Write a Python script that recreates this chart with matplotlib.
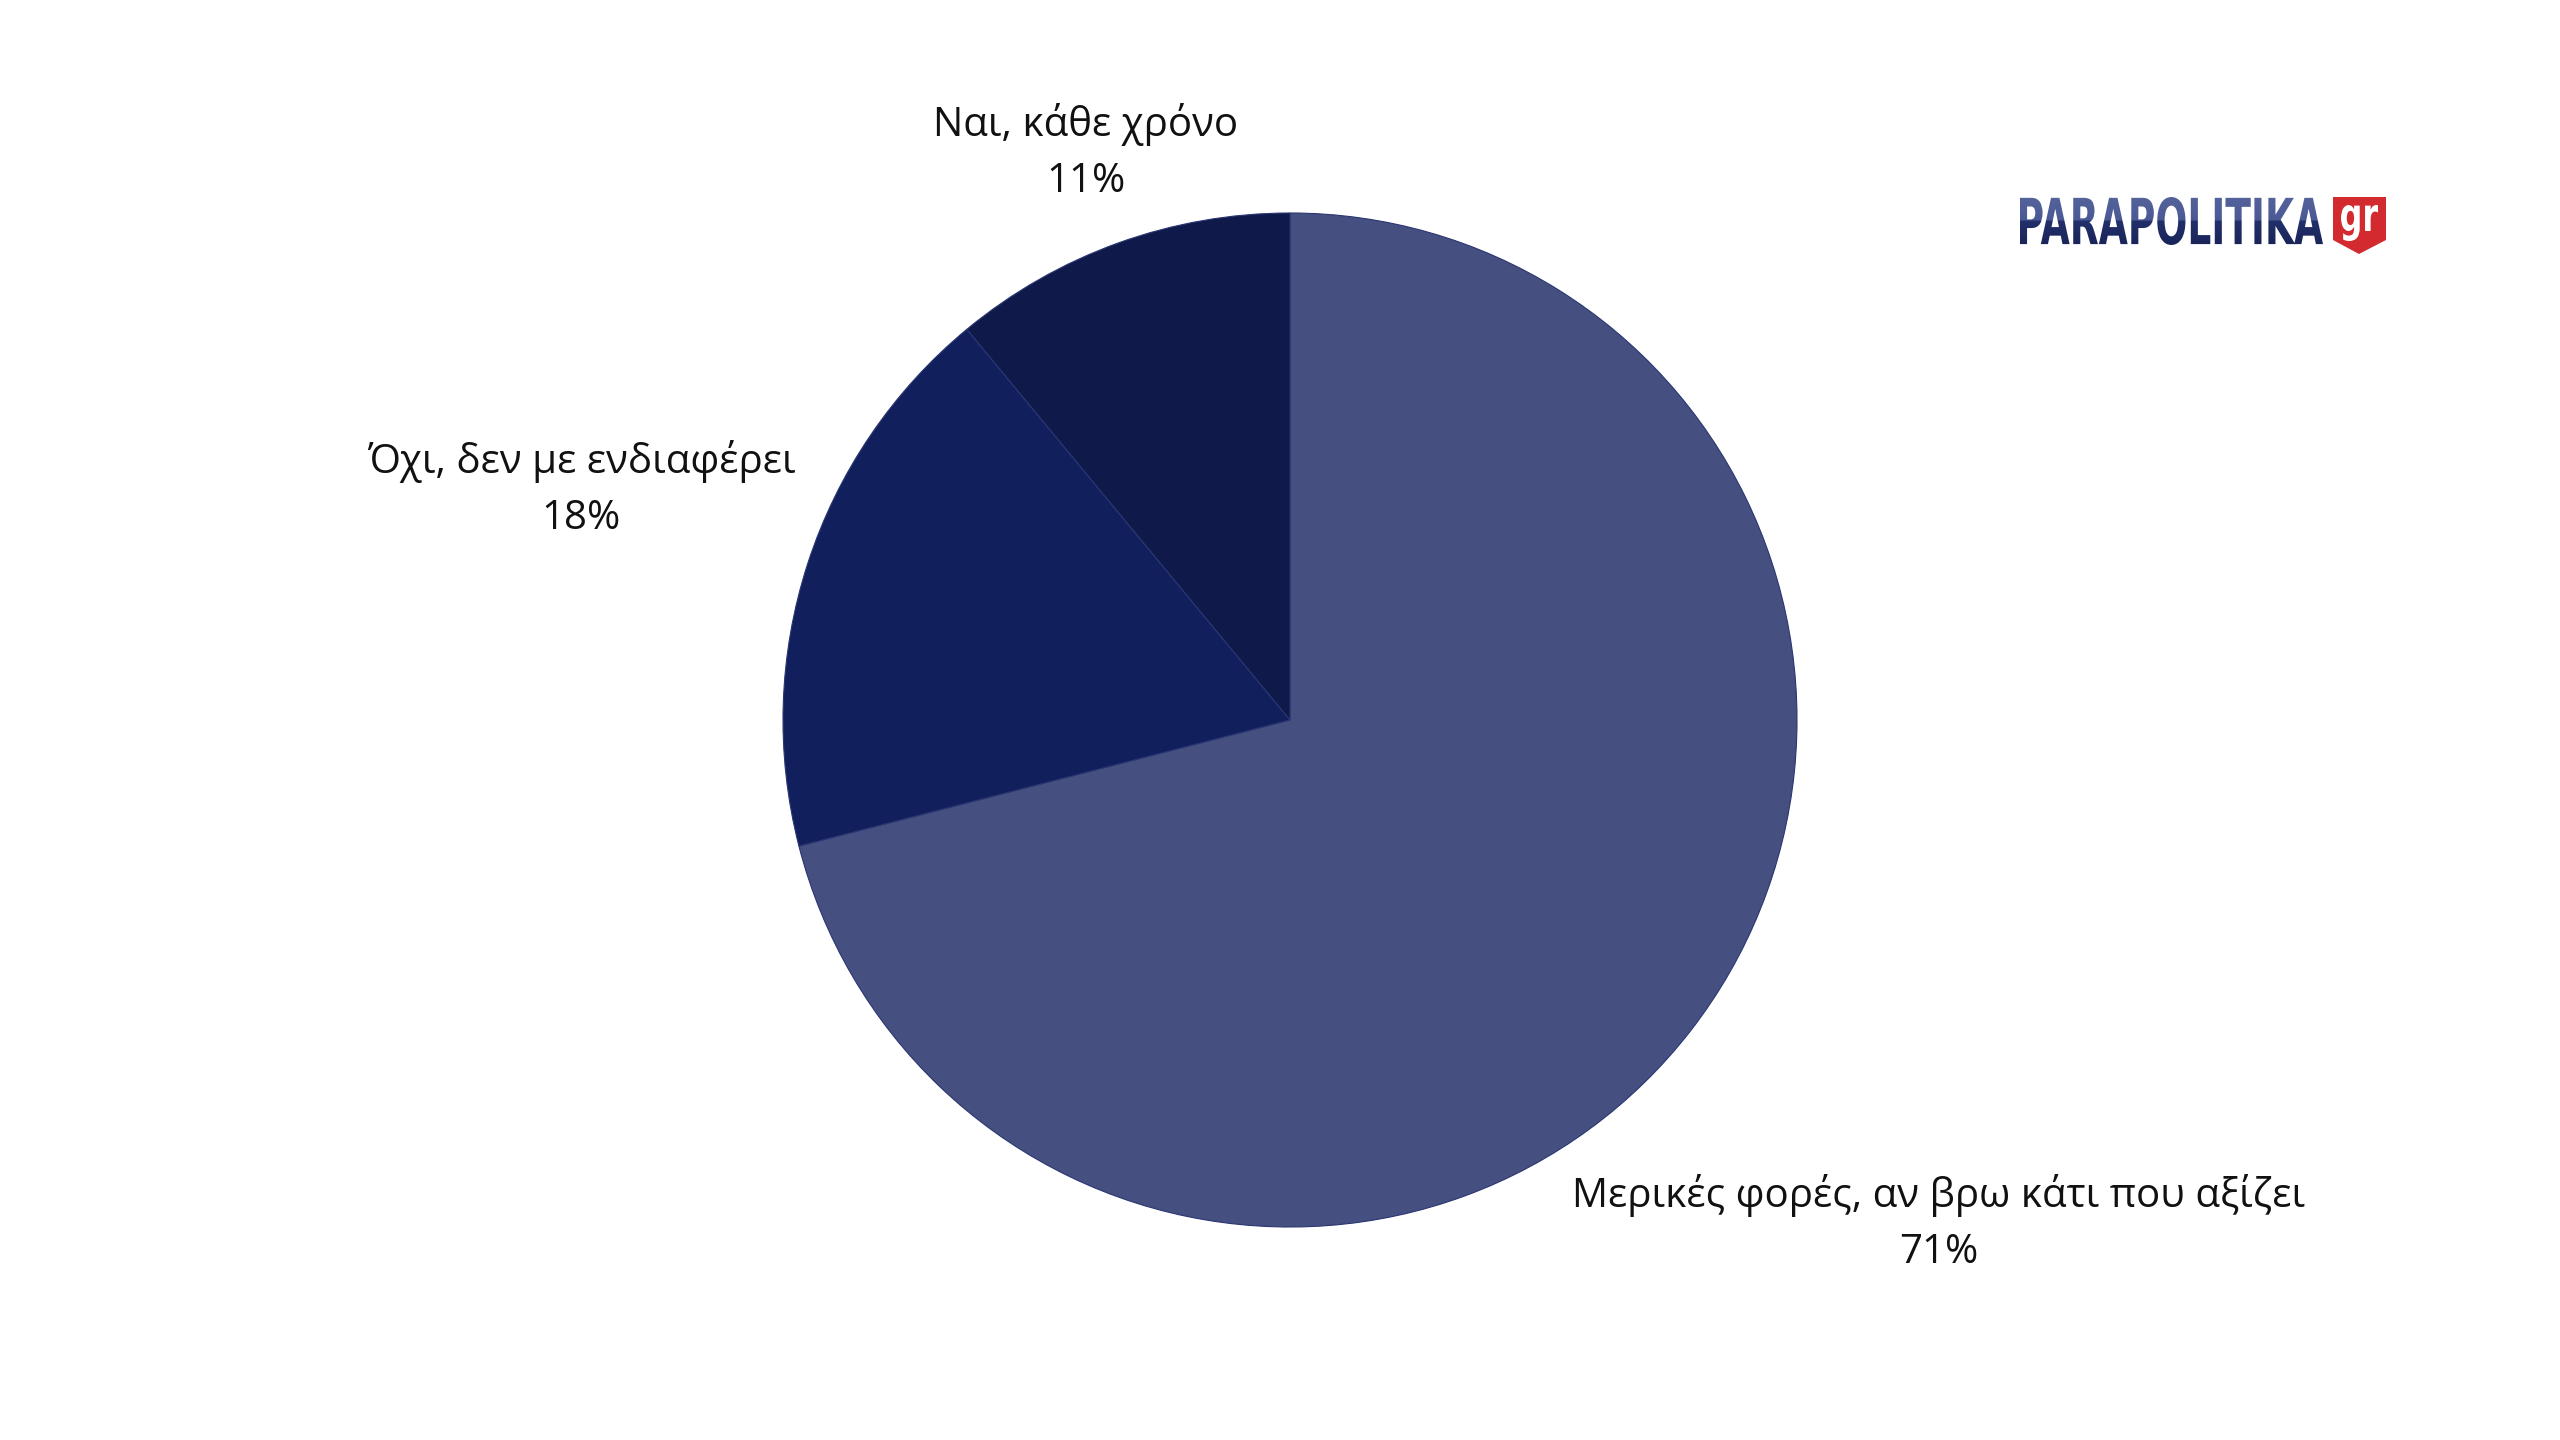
import numpy as np
import matplotlib
matplotlib.use("Agg")
import matplotlib.pyplot as plt
from matplotlib.textpath import TextPath
from matplotlib.patches import PathPatch, Polygon
from matplotlib.font_manager import FontProperties
from matplotlib.transforms import Affine2D

# data
labels = ["Μερικές φορές, αν βρω κάτι που αξίζει", "Όχι, δεν με ενδιαφέρει", "Ναι, κάθε χρόνο"]
values = [71, 18, 11]
colors = ["#454F80", "#111F5C", "#0F1A4B"]
label_dist = [1.62, 1.47, 1.19]   # radial distance of each label (in radii)

W, H = 2560, 1440
fig = plt.figure(figsize=(25.6, 14.4), dpi=100)
ax = fig.add_axes([0, 0, 1, 1])

cx, cy, r = 1290, H - 720, 507
wedges, _ = ax.pie(values, colors=colors, startangle=90, counterclock=False,
                   radius=r, center=(cx, cy), frame=True,
                   wedgeprops=dict(linewidth=0.8, edgecolor="#2a3672"))
ax.set_xlim(0, W)
ax.set_ylim(0, H)
ax.set_aspect("equal")
ax.axis("off")

for w, lab, v, d in zip(wedges, labels, values, label_dist):
    mid = np.deg2rad((w.theta1 + w.theta2) / 2)
    x = cx + d * r * np.cos(mid)
    y = cy + d * r * np.sin(mid)
    ax.text(x, y, f"{lab}\n{v}%", ha="center", va="center", fontsize=29,
            family="Open Sans", color="#111111", linespacing=1.5)


def fitted_text(s, box, weight="bold"):
    x0, y0, x1, y1 = box
    tp = TextPath((0, 0), s, size=100, prop=FontProperties(family="DejaVu Sans", weight=weight))
    ext = tp.get_extents()
    tr = (Affine2D().translate(-ext.x0, -ext.y0)
          .scale((x1 - x0) / ext.width, (y1 - y0) / ext.height)
          .translate(x0, y0))
    return tr.transform_path(tp)


# logo
box = (2020, H - 245, 2323, H - 197)
path = fitted_text("PARAPOLITIKA", box)
patch = PathPatch(path, facecolor="none", edgecolor="none")
ax.add_patch(patch)
grad = np.linspace(0, 1, 100)[:, None]
cmap = matplotlib.colors.LinearSegmentedColormap.from_list(
    "logo", [(0, "#1A2459"), (0.5, "#22306A"), (0.52, "#4A5894"), (1, "#55639C")])
im = ax.imshow(grad, extent=(box[0], box[2], box[1], box[3]), origin="lower",
               cmap=cmap, aspect="auto", zorder=3)
im.set_clip_path(patch)

badge = Polygon([(2333, H - 197), (2386, H - 197), (2386, H - 240),
                 (2359, H - 254), (2333, H - 240)], closed=True,
                facecolor="#D22A2F", edgecolor="none", zorder=3)
ax.add_patch(badge)
gr = fitted_text("gr", (2341, H - 241, 2378, H - 205))
ax.add_patch(PathPatch(gr, facecolor="white", edgecolor="none", zorder=4))

fig.savefig("out.png", dpi=100, facecolor="white")
